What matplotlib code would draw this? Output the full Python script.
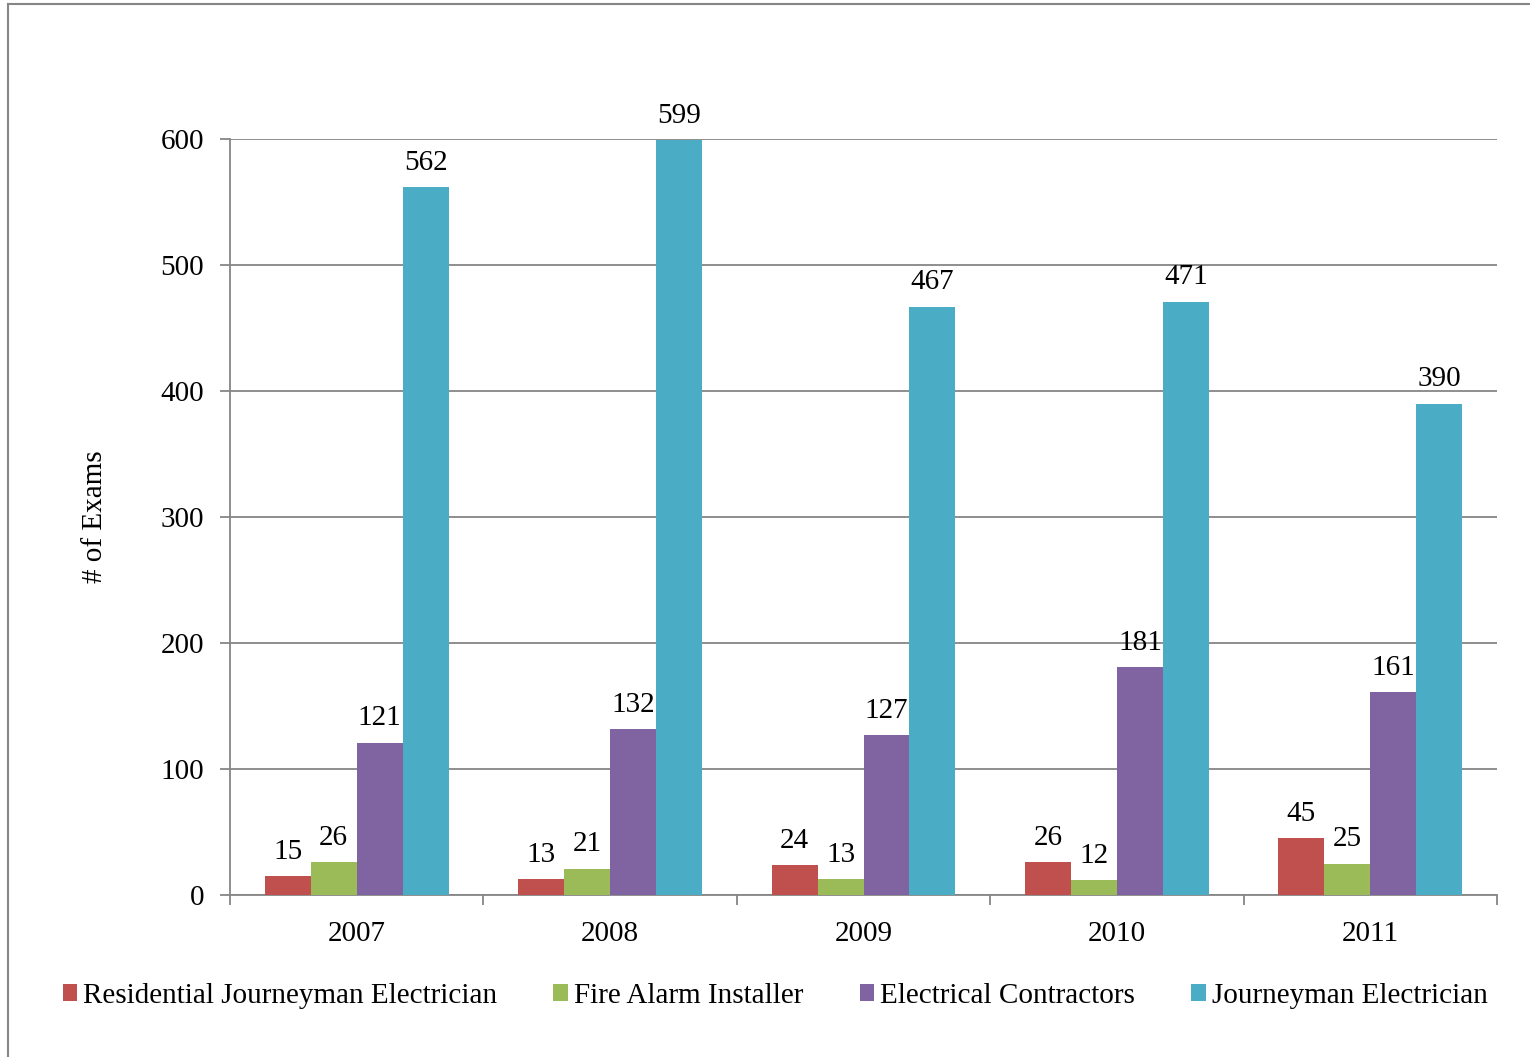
import numpy as np
import matplotlib
matplotlib.use('Agg')
import matplotlib.pyplot as plt
from matplotlib.lines import Line2D
plt.rcParams['font.family'] = 'Liberation Serif'

years = ['2007', '2008', '2009', '2010', '2011']
series_names = ['Residential Journeyman Electrician', 'Fire Alarm Installer',
                'Electrical Contractors', 'Journeyman Electrician']
residential = [15, 13, 24, 26, 45]
fire_alarm = [26, 21, 13, 12, 25]
contractors = [121, 132, 127, 181, 161]
journeyman = [562, 599, 467, 471, 390]
colors = ['#C0504D', '#9BBB59', '#8064A2', '#4BACC6']


def draw():
    W, H = 1530, 1057
    fs = 21
    fig = plt.figure(figsize=(W / 100, H / 100), dpi=100)
    # outer frame (open to the right and bottom, as in the source)
    fig.add_artist(Line2D([8 / W, 8 / W], [0, 1 - 4 / H], transform=fig.transFigure,
                          color='#868686', lw=1.5))
    fig.add_artist(Line2D([8 / W, 1], [1 - 4 / H, 1 - 4 / H], transform=fig.transFigure,
                          color='#868686', lw=1.5))

    ax = fig.add_axes([230 / W, 1 - 895 / H, 1267 / W, 756 / H])
    data = [residential, fire_alarm, contractors, journeyman]
    x = np.arange(len(years))
    bw = 0.1815
    for i, (vals, name, c) in enumerate(zip(data, series_names, colors)):
        pos = x + (i - 1.5) * bw
        ax.bar(pos, vals, bw, color=c, label=name, zorder=3)
        for p, v in zip(pos, vals):
            ax.annotate(str(v), (p, v), xytext=(0, 8), textcoords='offset points',
                        ha='center', va='bottom', fontsize=fs)

    ax.set_xlim(-0.5, len(years) - 0.5)
    ax.set_ylim(0, 600)
    ax.set_yticks(np.arange(0, 601, 100))
    ax.yaxis.grid(True, color='#868686', lw=1.3, zorder=0)
    ax.set_xticks(np.arange(-0.5, len(years), 1.0))
    ax.set_xticklabels([])
    ax.set_xticks(x, minor=True)
    ax.set_xticklabels(years, minor=True, fontsize=fs)
    ax.tick_params(axis='x', which='minor', length=0, pad=19)
    ax.tick_params(axis='x', which='major', length=7, color='#868686', width=1.3)
    ax.tick_params(axis='y', length=7.2, color='#868686', width=1.3, labelsize=fs, pad=11.5)
    for s in ['top', 'right']:
        ax.spines[s].set_visible(False)
    for s in ['left', 'bottom']:
        ax.spines[s].set_color('#868686')
        ax.spines[s].set_linewidth(1.3)
    ax.set_ylabel('# of Exams', fontsize=fs, labelpad=38)

    fig.legend(loc='center', bbox_to_anchor=(775 / W, 1 - 996 / H), ncol=4,
               frameon=False, fontsize=fs, handlelength=0.5, handleheight=0.55,
               handletextpad=0.2, columnspacing=1.93)
    fig.savefig('out.png', dpi=100)


if __name__ == '__main__':
    draw()
